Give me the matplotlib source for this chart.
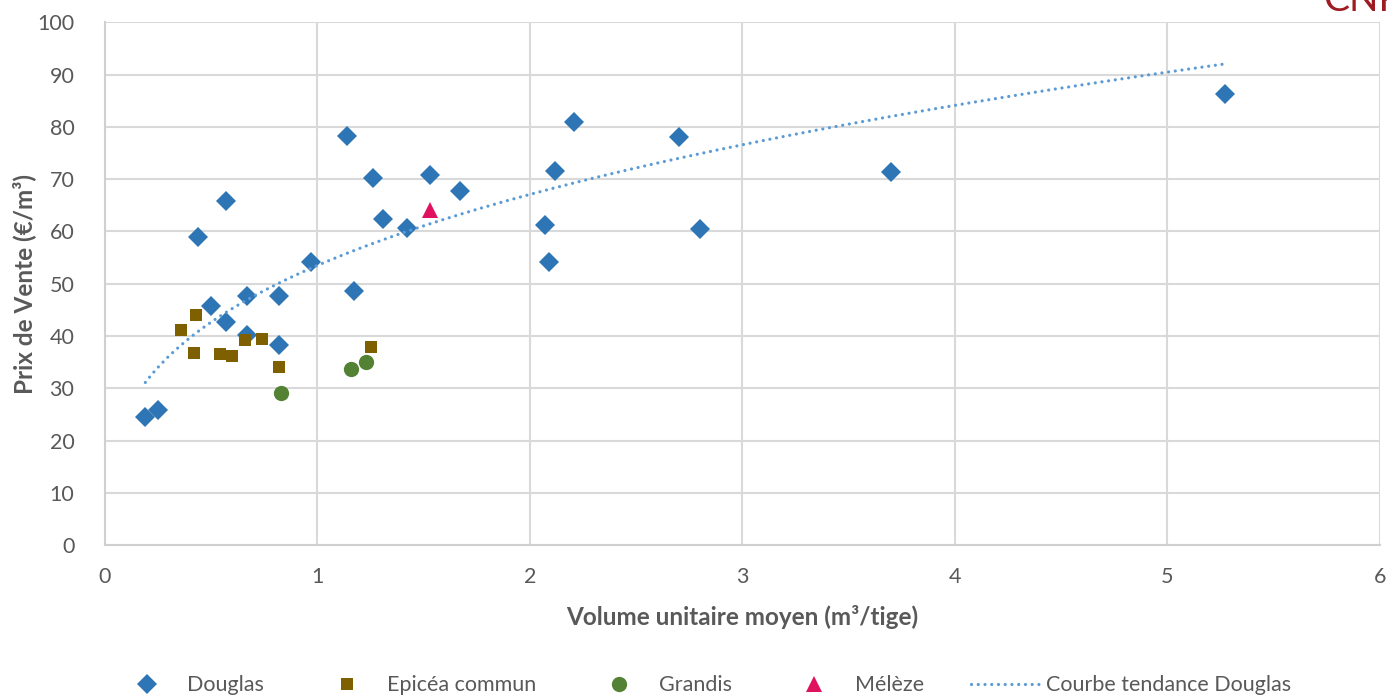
import numpy as np
import matplotlib
matplotlib.use("Agg")
import matplotlib.pyplot as plt

plt.rcParams['font.family'] = ['Lato', 'DejaVu Sans']

# Douglas
douglas_x = [0.19, 0.25, 0.44, 0.50, 0.57, 0.57, 0.67, 0.67, 0.82, 0.82, 0.97,
             1.14, 1.17, 1.26, 1.31, 1.42, 1.53, 1.67, 2.07, 2.09, 2.12, 2.21,
             2.70, 2.80, 3.70, 5.27]
douglas_y = [24.5, 25.8, 58.9, 45.7, 65.8, 42.6, 47.6, 40.2, 47.6, 38.2, 54.1,
             78.2, 48.6, 70.3, 62.3, 60.7, 70.8, 67.7, 61.2, 54.1, 71.6, 80.9,
             78.1, 60.4, 71.4, 86.3]
# Epicéa commun
epicea_x = [0.36, 0.43, 0.42, 0.54, 0.60, 0.66, 0.74, 0.82, 1.25]
epicea_y = [41.1, 44.0, 36.8, 36.5, 36.1, 39.3, 39.4, 34.1, 37.9]
# Grandis
grandis_x = [0.83, 1.16, 1.23]
grandis_y = [29.1, 33.6, 35.1]
# Mélèze
meleze_x = [1.53]
meleze_y = [64.1]

grey = '#595959'
fig = plt.figure(figsize=(13.87, 6.97), dpi=100, facecolor='white')
ax = fig.add_axes([0.0757, 0.218, 0.919, 0.750])

# courbe de tendance (puissance, comme Excel)
p = np.polyfit(np.log(douglas_x), np.log(douglas_y), 1)
tx = np.linspace(min(douglas_x), max(douglas_x), 300)
ty = np.exp(p[1]) * tx ** p[0]

ax.plot(douglas_x, douglas_y, 'D', color='#2e75b6', ms=10, mew=0, label='Douglas', zorder=3)
ax.plot(epicea_x, epicea_y, 's', color='#7f6000', ms=8, mew=0, label='Epicéa commun', zorder=3)
ax.plot(grandis_x, grandis_y, 'o', color='#548235', ms=11, mew=0, label='Grandis', zorder=3)
ax.plot(meleze_x, meleze_y, '^', color='#e0115f', ms=11, mew=0, label='Mélèze', zorder=3)
ax.plot(tx, ty, color='#5b9bd5', lw=2.3, linestyle=(0, (0.01, 2.1)), dash_capstyle='round',
        label='Courbe tendance Douglas', zorder=4)

ax.set_xlim(0, 6)
ax.set_ylim(0, 100)
ax.set_xticks(np.arange(0, 7, 1))
ax.set_yticks(np.arange(0, 101, 10))
ax.grid(True, color='#d9d9d9', lw=1.5)
ax.set_axisbelow(True)
for s in ['top', 'right']:
    ax.spines[s].set_visible(False)
for s in ['left', 'bottom']:
    ax.spines[s].set_color('#d0d0d0')
    ax.spines[s].set_linewidth(1.5)
ax.tick_params(length=0, colors=grey, labelsize=15.5)
ax.tick_params(axis='y', pad=22)
ax.tick_params(axis='x', pad=16)

ax.set_xlabel('Volume unitaire moyen (m³/tige)', fontsize=17.5, fontweight='bold', color=grey, labelpad=13)
ax.set_ylabel('Prix de Vente (€/m³)', fontsize=17.5, fontweight='bold', color=grey, labelpad=1)

leg = fig.legend(loc='center', bbox_to_anchor=(0.506, 0.017), ncol=5, frameon=False,
                 fontsize=15.5, labelcolor=grey, columnspacing=2.2, handlelength=3.25, handletextpad=0.25)

fig.text(0.99, 1.0, 'CNPF', color='#9e1b22', fontsize=28, ha='center', va='center')

plt.savefig('out.png', dpi=100)
